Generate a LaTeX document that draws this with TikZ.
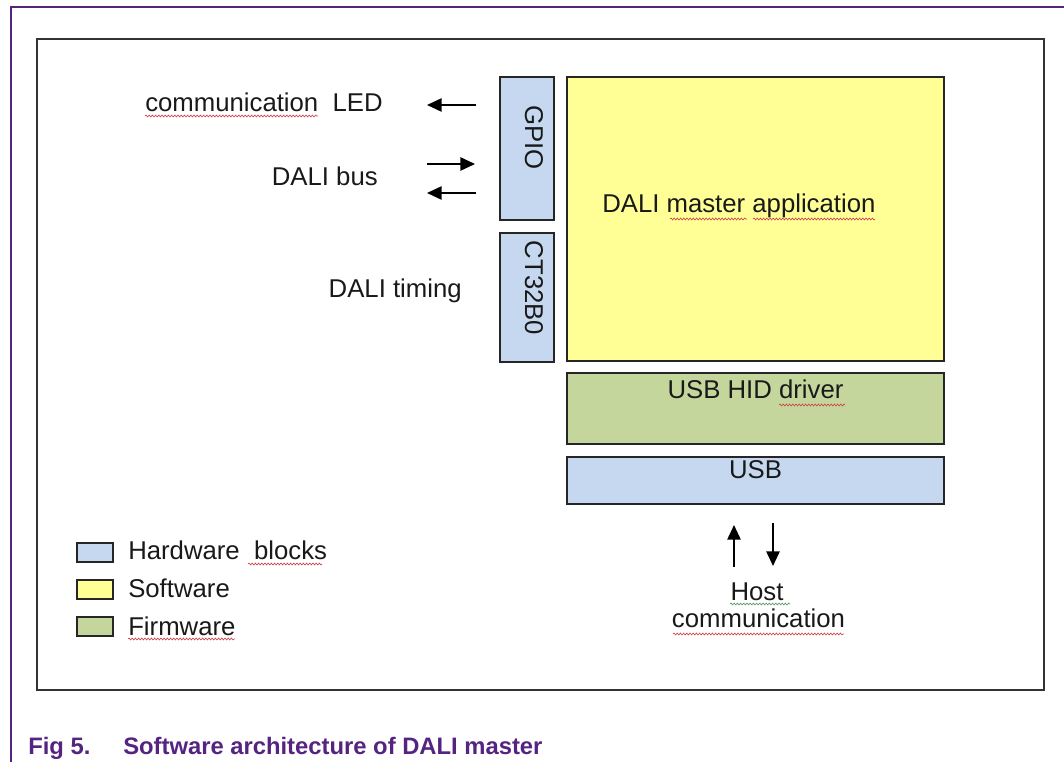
\documentclass[tikz,border=0pt]{standalone}
\usepackage{fontspec}
\setmainfont{Liberation Sans}
\usetikzlibrary{arrows.meta,decorations.pathmorphing,fit}

\definecolor{hwblue}{RGB}{198,216,240}
\definecolor{swyellow}{RGB}{255,255,150}
\definecolor{fwgreen}{RGB}{196,214,155}
\definecolor{nxppurple}{RGB}{84,36,128}
\definecolor{spellred}{RGB}{205,70,80}
\definecolor{spellgreen}{RGB}{100,150,100}

\begin{document}
\begin{tikzpicture}[x=0.75pt,y=-0.75pt,
  block/.style={draw=black!85, line width=1pt, inner sep=0pt, outer sep=0pt},
  lbl/.style={font=\fontsize{19.3}{22}\selectfont, inner sep=0pt, text=black!90},
  caption/.style={font=\bfseries\fontsize{17.85}{21}\selectfont, inner sep=0pt, text=nxppurple},
  sig/.style={line width=1.2pt, draw=black, -{Triangle[length=11pt,width=10pt]}},
  squig/.style={draw=spellred, line width=0.5pt, decorate,
    decoration={snake, segment length=2.4pt, amplitude=0.7pt}}]

\useasboundingbox (0,0) rectangle (1064,762);

% page rule (top and left)
\draw[nxppurple, line width=1.1pt] (1064,7) -- (11,7) -- (11,762);

% figure frame
\node[block, draw=black!80, line width=1.5pt, fit={(37,39) (1044,690)}] (frame) {};

% hardware / software / firmware blocks
\node[block, fill=hwblue,   fit={(500,77) (554,220)}]  (gpio) {};
\node[block, fill=hwblue,   fit={(500,233) (554,362)}] (timer) {};
\node[block, fill=swyellow, fit={(567,77) (944,361)}]  (app) {};
\node[block, fill=fwgreen,  fit={(567,373) (944,444)}] (hid) {};
\node[block, fill=hwblue,   fit={(567,457) (944,504)}] (usb) {};

\node[lbl, rotate=-90, anchor=base] (gpiotxt)  at (525,137.5) {GPIO};
\node[lbl, rotate=-90, anchor=base] (timertxt) at (525,288) {CT32B0};
\node[lbl, anchor=base west] (apptxt) at (602,213) {DALI master application};
\node[lbl, anchor=base] (hidtxt) at (755.5,399) {USB HID driver};
\node[lbl, anchor=base] (usbtxt) at (755.5,479) {USB};

% signals on the left
\node[lbl, anchor=base west] (ledtxt)    at (145,112) {communication\ \ LED};
\node[lbl, anchor=base east] (bustxt)    at (378,186) {DALI bus};
\node[lbl, anchor=base east] (timingtxt) at (462,298) {DALI timing};

\coordinate (ledA) at (476,105);  \coordinate (ledB) at (427,105);
\coordinate (rxA)  at (427,164);  \coordinate (rxB)  at (475,164);
\coordinate (txA)  at (476,193);  \coordinate (txB)  at (427,193);
\draw[sig] (ledA) -- (ledB);
\draw[sig] (rxA) -- (rxB);
\draw[sig] (txA) -- (txB);

% host link
\coordinate (upA)   at (734,567); \coordinate (upB)   at (734,525);
\coordinate (downA) at (773,523); \coordinate (downB) at (773,566);
\draw[sig] (upA) -- (upB);
\draw[sig] (downA) -- (downB);
\node[lbl, anchor=base] (hosttxt) at (757,600) {Host};
\node[lbl, anchor=base] (commtxt) at (758.5,628) {communication};

% legend
\node[block, fill=hwblue,   fit={(77,543) (113,562)}] (keyhw) {};
\node[block, fill=swyellow, fit={(77,580) (113,599)}] (keysw) {};
\node[block, fill=fwgreen,  fit={(77,617) (113,636)}] (keyfw) {};
\node[lbl, anchor=base west] (keyhwtxt) at (128,560) {Hardware\ \ blocks};
\node[lbl, anchor=base west] (keyswtxt) at (128,597) {Software};
\node[lbl, anchor=base west] (keyfwtxt) at (128,635) {Firmware};

% spelling marks under words
\draw[squig] (145,116) -- (318,116);
\draw[squig] (670,219) -- (747,219);
\draw[squig] (753,219) -- (875,219);
\draw[squig] (779,405) -- (845,405);
\draw[squig] (248,564) -- (322,564);
\draw[squig] (128,639) -- (235,639);
\draw[squig, draw=spellgreen] (730,604) -- (790,604);
\draw[squig] (673,634) -- (844,634);

% caption
\node[caption, anchor=base west] (fignum) at (28,754) {Fig 5.};
\node[caption, anchor=base west] (figtitle) at (123,754) {Software architecture of DALI master};
\end{tikzpicture}
\end{document}
